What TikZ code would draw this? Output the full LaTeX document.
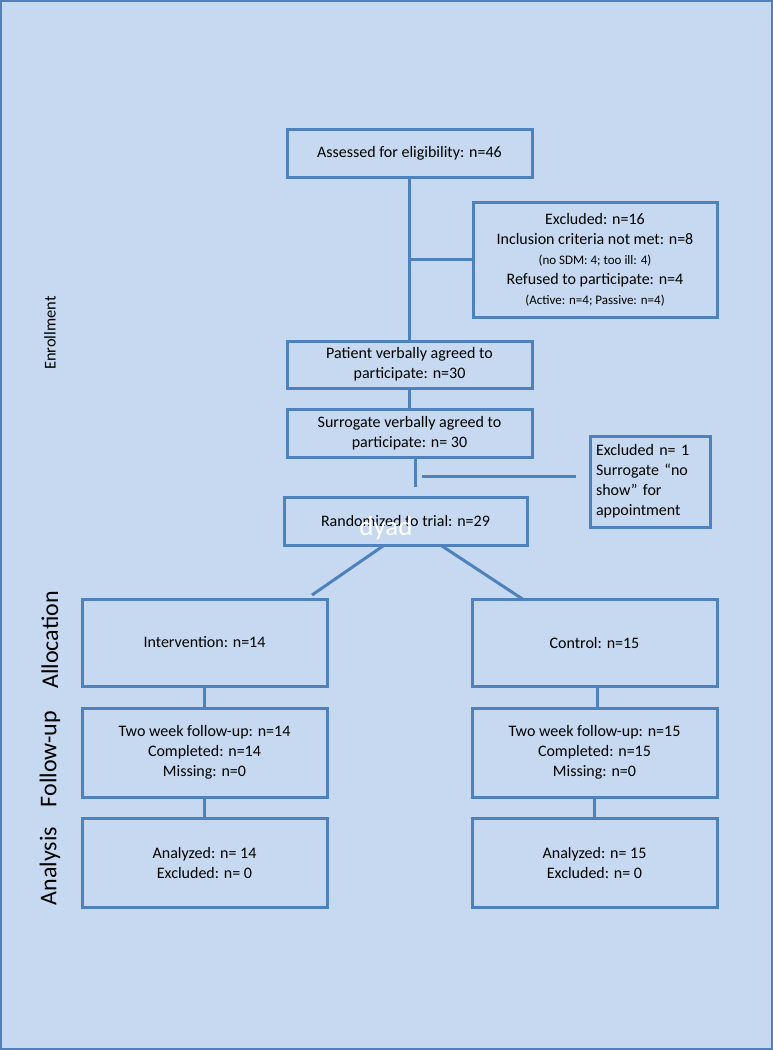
\documentclass[tikz,border=0pt]{standalone}
\usepackage{fontspec}
\setmainfont{Carlito}
\definecolor{bgblue}{HTML}{C6D9F1}
\definecolor{lineblue}{HTML}{4F81BD}
\newcommand{\mainsz}{\fontsize{16}{20}\selectfont}
\newcommand{\smallsz}{\fontsize{13}{17}\selectfont}
\begin{document}
\begin{tikzpicture}[x=1pt,y=-1pt,
  box/.style={draw=lineblue, line width=3pt, fill=bgblue, inner sep=0pt, align=center, font=\mainsz},
  conn/.style={draw=lineblue, line width=3pt},
  phase/.style={rotate=90, font=\fontsize{24}{28}\selectfont, inner sep=0pt}]
\useasboundingbox (0,0) rectangle (773,1050);
\fill[bgblue] (0,0) rectangle (773,1050);
\draw[lineblue, line width=2pt] (1,1) rectangle (772,1049);

% phase labels
\node[phase, font=\fontsize{16.5}{19}\selectfont] (enr) at (50,333) {Enrollment};
\node[phase] (alloc) at (50,640) {Allocation};
\node[phase] (fu) at (50,759) {Follow-up};
\node[phase] (ana) at (50,866) {Analysis};

% boxes
\node[box, minimum width=245pt, minimum height=48pt] (assess) at (409.5,153) {Assessed for eligibility: n=46};
\node[box, minimum width=244pt, minimum height=115pt] (excl1) at (595,259.5)
  {Excluded: n=16\\ Inclusion criteria not met: n=8\\ {\smallsz (no SDM: 4; too ill: 4)}\\ Refused to participate: n=4\\ {\smallsz (Active: n=4; Passive: n=4)}};
\node[box, minimum width=245pt, minimum height=47pt] (patient) at (409.5,364.5) {Patient verbally agreed to\\ participate: n=30};
\node[box, minimum width=245pt, minimum height=48pt] (surr) at (409.5,433) {Surrogate verbally agreed to\\ participate: n= 30};
\node[box, minimum width=120pt, minimum height=91pt, align=left, text width=108pt] (excl2) at (650,481.5)
  {Excluded n= 1\\ Surrogate “no\\ show” for\\ appointment};
\node[box, minimum width=243pt, minimum height=48pt] (rand) at (405.5,521) {Randomized to trial: n=29};
\node[text=white, font=\fontsize{27}{30}\selectfont, inner sep=0pt] (dyad) at (386,528) {dyad};

\node[box, minimum width=245pt, minimum height=87pt] (interv) at (204.5,642.5) {Intervention: n=14};
\node[box, minimum width=245pt, minimum height=87pt] (control) at (594.5,642.5) {Control: n=15};
\node[box, minimum width=245pt, minimum height=89pt] (fu1) at (204.5,752.5)
  {Two week follow-up: n=14\\ Completed: n=14\\ Missing: n=0};
\node[box, minimum width=245pt, minimum height=89pt] (fu2) at (594.5,752.5)
  {Two week follow-up: n=15\\ Completed: n=15\\ Missing: n=0};
\node[box, minimum width=245pt, minimum height=89pt] (an1) at (204.5,862.5)
  {Analyzed: n= 14\\ Excluded: n= 0};
\node[box, minimum width=245pt, minimum height=89pt] (an2) at (594.5,862.5)
  {Analyzed: n= 15\\ Excluded: n= 0};

% free ends
\coordinate (sEnd) at (415,487);
\coordinate (hStart) at (422,476);
\coordinate (hEnd) at (576,476);
\coordinate (dl1) at (383,546);
\coordinate (dl2) at (312,595);
\coordinate (dr1) at (442,546);
\coordinate (dr2) at (524,600);

% connectors
\draw[conn] (assess.south) -- (patient.north);
\draw[conn] (assess.south |- excl1.west) -- (excl1.west);
\draw[conn] (patient.south) -- (surr.north);
\draw[conn] (surr.south -| sEnd) -- (sEnd);
\draw[conn] (hStart) -- (hEnd);
\draw[conn] (dl1) -- (dl2);
\draw[conn] (dr1) -- (dr2);
\draw[conn] (interv.south) -- (fu1.north);
\draw[conn] (fu1.south) -- (an1.north);
\draw[conn] ([xshift=2.5pt]control.south) -- ([xshift=2.5pt]fu2.north);
\draw[conn] (fu2.south) -- (an2.north);
\end{tikzpicture}
\end{document}
